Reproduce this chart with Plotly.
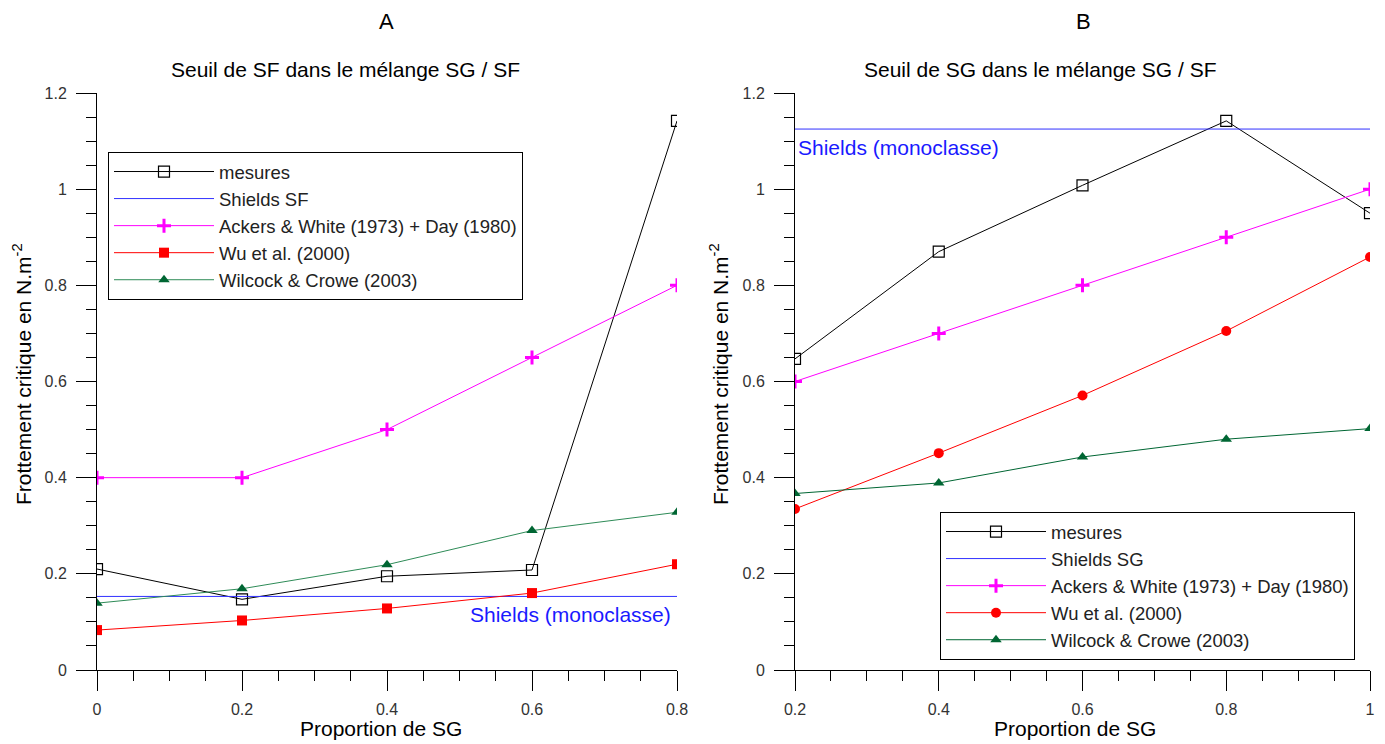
import plotly.graph_objects as go

# ---------------- data ----------------
x_a = [0, 0.2, 0.4, 0.6, 0.8]
mesures_a = [0.21, 0.147, 0.195, 0.208, 1.142]
shields_a_x = [0, 0.8]
shields_a = [0.153, 0.153]
ackers_a = [0.4, 0.4, 0.5, 0.65, 0.8]
wu_a = [0.083, 0.103, 0.128, 0.16, 0.22]
wilcock_a = [0.139, 0.169, 0.219, 0.29, 0.328]

x_b = [0.2, 0.4, 0.6, 0.8, 1.0]
mesures_b = [0.647, 0.87, 1.008, 1.142, 0.95]
shields_b_x = [0.2, 1.0]
shields_b = [1.125, 1.125]
ackers_b = [0.6, 0.7, 0.8, 0.9, 1.0]
wu_b = [0.335, 0.451, 0.571, 0.705, 0.859]
wilcock_b = [0.367, 0.389, 0.443, 0.48, 0.502]

names_a = ["mesures", "Shields SF", "Ackers & White (1973) + Day (1980)", "Wu et al. (2000)", "Wilcock & Crowe (2003)"]
names_b = ["mesures", "Shields SG", "Ackers & White (1973) + Day (1980)", "Wu et al. (2000)", "Wilcock & Crowe (2003)"]

FONT = "Liberation Sans, Arial, sans-serif"
OFF = 8  # page body margin
W, H = 1385 - OFF, 744 - OFF


def PX(p):
    return (p - OFF) / W


def PY(p):
    return 1 - (p - OFF) / H


fig = go.Figure()


def add_set(xs, sx, sy, ms, ack, wu, wil, names, xref, yref, leg, wu_sym, wil_line):
    common = dict(xaxis=xref, yaxis=yref, legend=leg, mode="lines+markers")
    fig.add_trace(go.Scatter(x=xs, y=ms, name=names[0], legendgroup=leg + "1",
                             line=dict(color="#000000", width=1),
                             marker=dict(symbol="square-open", size=11, color="#000000", line=dict(width=1.2)),
                             **common))
    fig.add_trace(go.Scatter(x=sx, y=sy, name=names[1], legendgroup=leg + "2", mode="lines",
                             line=dict(color="#3030ff", width=1), xaxis=xref, yaxis=yref, legend=leg))
    fig.add_trace(go.Scatter(x=xs, y=ack, name=names[2], legendgroup=leg + "3",
                             line=dict(color="#ff00ff", width=1),
                             marker=dict(symbol="cross-thin", size=10, color="#ff00ff",
                                         line=dict(width=3, color="#ff00ff")),
                             **common))
    fig.add_trace(go.Scatter(x=xs, y=wu, name=names[3], legendgroup=leg + "4",
                             line=dict(color="#ff0000", width=1),
                             marker=dict(symbol=wu_sym, size=10, color="#ff0000"),
                             **common))
    fig.add_trace(go.Scatter(x=xs, y=wil, name=names[4], legendgroup=leg + "5",
                             line=dict(color=wil_line, width=1),
                             marker=dict(symbol="triangle-up", size=10, color="#006633"),
                             **common))


add_set(x_a, shields_a_x, shields_a, mesures_a, ackers_a, wu_a, wilcock_a, names_a,
        "x", "y", "legend", "square", "#2e8b57")
add_set(x_b, shields_b_x, shields_b, mesures_b, ackers_b, wu_b, wilcock_b, names_b,
        "x2", "y2", "legend2", "circle", "#006633")

axis_common = dict(showline=True, linecolor="#000000", linewidth=1, showgrid=False, zeroline=False,
                   ticks="outside", ticklen=20, tickcolor="#000000", tickwidth=1,
                   tickfont=dict(family=FONT, size=16, color="#333333"), automargin=False,
                   minor=dict(ticks="outside", ticklen=10, tickcolor="#000000", tickwidth=1, showgrid=False))

yd = [PY(670), PY(93)]
leg_common = dict(xanchor="left", yanchor="top", bordercolor="#000000", borderwidth=1, bgcolor="white",
                  font=dict(family=FONT, size=18.5, color="#222222"),
                  traceorder="grouped", tracegroupgap=0, itemwidth=100)
fig.update_layout(
    width=W, height=H, margin=dict(l=0, r=0, t=0, b=0),
    paper_bgcolor="white", plot_bgcolor="white",
    font=dict(family=FONT, color="#000000"),
    xaxis=dict(domain=[PX(97), PX(677)], range=[0, 0.8], dtick=0.2, tick0=0, ticklabelstandoff=5,
               **axis_common),
    yaxis=dict(domain=yd, range=[0, 1.2], dtick=0.2, tick0=0, ticklabelstandoff=6, **axis_common),
    xaxis2=dict(domain=[PX(795), PX(1370)], range=[0.2, 1.0], dtick=0.2, tick0=0.2, anchor="y2",
                ticklabelstandoff=5, **axis_common),
    yaxis2=dict(domain=yd, range=[0, 1.2], dtick=0.2, tick0=0, anchor="x2", ticklabelstandoff=6,
                **axis_common),
    legend=dict(x=PX(108), y=PY(152), **leg_common),
    legend2=dict(x=PX(940), y=PY(512), **leg_common),
    showlegend=True,
)

texts = [
    ("A", 387, 8, 22, 0, "top"),
    ("B", 1083, 8, 22, 0, "top"),
    ("Seuil de SF dans le mélange SG / SF", 345, 70, 21, 0, "middle"),
    ("Seuil de SG dans le mélange SG / SF", 1040, 70, 21, 0, "middle"),
    ("Proportion de SG", 381, 728, 21, 0, "middle"),
    ("Proportion de SG", 1075, 728, 21, 0, "middle"),
    ("Frottement critique en N.m<sup>-2</sup>", 22, 374, 21, -90, "middle"),
    ("Frottement critique en N.m<sup>-2</sup>", 719, 374, 21, -90, "middle"),
]
for t, x, y, s, ang, ya in texts:
    fig.add_annotation(xref="paper", yref="paper", showarrow=False, xanchor="center", yanchor=ya,
                       text=t, x=PX(x), y=PY(y), textangle=ang, borderpad=0,
                       font=dict(family=FONT, color="#000000", size=s))

fig.add_annotation(xref="x", yref="y", x=0.8, y=shields_a[0], text="Shields (monoclasse)", showarrow=False,
                   xanchor="right", yanchor="top", yshift=-5, xshift=-4,
                   font=dict(family=FONT, size=21, color="#1a1aff"))
fig.add_annotation(xref="x2", yref="y2", x=0.2, y=shields_b[0], text="Shields (monoclasse)", showarrow=False,
                   xanchor="left", yanchor="top", yshift=-5, xshift=1,
                   font=dict(family=FONT, size=21, color="#1a1aff"))

fig.write_html("out.html")
